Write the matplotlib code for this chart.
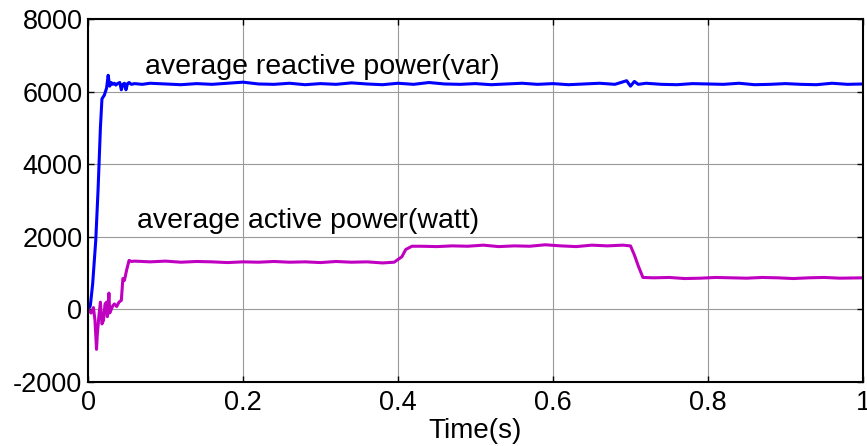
import matplotlib
matplotlib.use("Agg")
import matplotlib.pyplot as plt

# ----------------------------
# DATA
# ----------------------------
t_reactive = [0.0, 0.003, 0.006, 0.010, 0.013, 0.016, 0.018, 0.021, 0.024, 0.026,
              0.028, 0.030, 0.032, 0.034, 0.036, 0.038, 0.041, 0.043, 0.045, 0.047,
              0.049, 0.051, 0.053, 0.056, 0.060, 0.07, 0.08, 0.10, 0.12, 0.14,
              0.16, 0.18, 0.20, 0.22, 0.24, 0.26, 0.28, 0.30, 0.32, 0.34,
              0.36, 0.38, 0.40, 0.42, 0.44, 0.46, 0.48, 0.50, 0.52, 0.54,
              0.56, 0.58, 0.60, 0.62, 0.64, 0.66, 0.68, 0.695, 0.700, 0.705,
              0.71, 0.72, 0.74, 0.76, 0.78, 0.80, 0.82, 0.84, 0.86, 0.88,
              0.90, 0.92, 0.94, 0.96, 0.98, 1.0]
p_reactive = [0, 100, 700, 1900, 3300, 5000, 5800, 5900, 6100, 6450,
              6150, 6250, 6200, 6230, 6180, 6220, 6250, 6050, 6200, 6230,
              6050, 6220, 6250, 6200, 6220, 6200, 6230, 6210, 6190, 6220,
              6200, 6230, 6260, 6210, 6200, 6230, 6190, 6220, 6200, 6240,
              6210, 6190, 6230, 6200, 6250, 6210, 6200, 6220, 6190, 6210,
              6230, 6200, 6220, 6190, 6210, 6230, 6200, 6300, 6150, 6280,
              6200, 6230, 6200, 6190, 6220, 6210, 6200, 6230, 6190, 6200,
              6220, 6200, 6190, 6230, 6200, 6210]

t_active = [0.0, 0.004, 0.007, 0.009, 0.011, 0.012, 0.014, 0.016, 0.018, 0.020,
            0.022, 0.024, 0.025, 0.027, 0.028, 0.030, 0.032, 0.034, 0.037, 0.040,
            0.043, 0.045, 0.047, 0.050, 0.053, 0.056, 0.060, 0.08, 0.10, 0.12,
            0.14, 0.16, 0.18, 0.20, 0.22, 0.24, 0.26, 0.28, 0.30, 0.32,
            0.34, 0.36, 0.38, 0.395, 0.405, 0.410, 0.418, 0.43, 0.45, 0.47,
            0.49, 0.51, 0.53, 0.55, 0.57, 0.59, 0.61, 0.63, 0.65, 0.67,
            0.69, 0.700, 0.705, 0.710, 0.716, 0.73, 0.75, 0.77, 0.79, 0.81,
            0.83, 0.85, 0.87, 0.89, 0.91, 0.93, 0.95, 0.97, 1.0]
p_active = [0, -100, 50, -300, -1100, -700, -200, 200, -400, -300,
            150, 200, -200, 450, -100, 0, 100, 150, 80, 200,
            250, 850, 800, 1100, 1350, 1320, 1330, 1310, 1330, 1300,
            1320, 1310, 1290, 1310, 1300, 1320, 1300, 1310, 1290, 1320,
            1300, 1310, 1280, 1300, 1450, 1650, 1740, 1740, 1730, 1750,
            1740, 1770, 1730, 1750, 1740, 1780, 1750, 1730, 1770, 1750,
            1770, 1750, 1500, 1200, 880, 870, 880, 850, 860, 880,
            870, 860, 880, 870, 850, 870, 880, 860, 870]

x_ticks = [0, 0.2, 0.4, 0.6, 0.8, 1]
x_labels = ["0", "0.2", "0.4", "0.6", "0.8", "1"]
y_ticks = [-2000, 0, 2000, 4000, 6000, 8000]
y_labels = ["-2000", "0", "2000", "4000", "6000", "8000"]

plt.rcParams['font.family'] = ['Liberation Sans', 'DejaVu Sans']

fig = plt.figure(figsize=(8.67, 4.46), dpi=100)
ax = fig.add_axes([88 / 867, 1 - 382 / 446, 775 / 867, 363 / 446])

ax.plot(t_reactive, p_reactive, color="#0000ff", linewidth=2.2)
ax.plot(t_active, p_active, color="#c000c0", linewidth=2.2)

ax.set_xlim(0, 1)
ax.set_ylim(-2000, 8000)
ax.set_xticks(x_ticks)
ax.set_xticklabels(x_labels)
ax.set_yticks(y_ticks)
ax.set_yticklabels(y_labels)
ax.tick_params(labelsize=19.5, direction="in", length=4, width=1,
               top=True, right=True, colors="black")
ax.tick_params(axis="x", pad=6)
ax.tick_params(axis="y", pad=4)
ax.grid(True, color="#999999", linewidth=0.8)
for s in ax.spines.values():
    s.set_linewidth(1.5)

ax.text(0.074, 6490, "average reactive power(var)", fontsize=20.5, va="baseline")
ax.text(0.063, 2255, "average active power(watt)", fontsize=20.5, va="baseline")
ax.set_xlabel("Time(s)", fontsize=20, labelpad=1)

fig.savefig("out.png", dpi=100)
